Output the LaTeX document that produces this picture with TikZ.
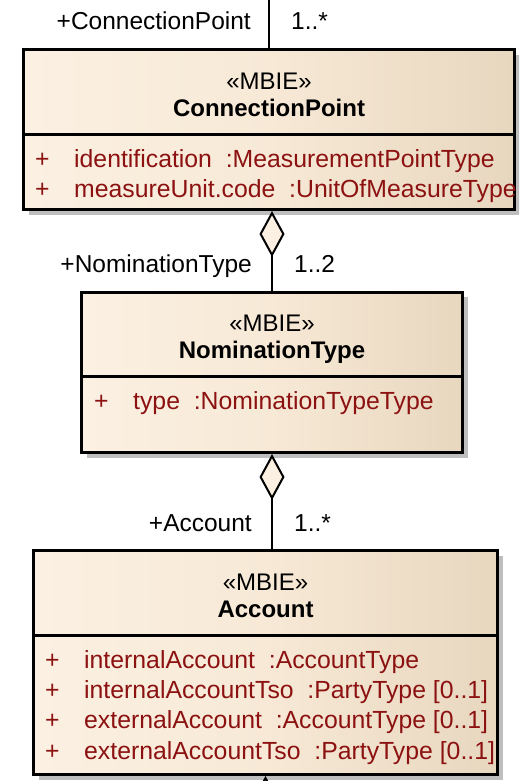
\documentclass[tikz,border=0pt]{standalone}
\usepackage{fontspec}
\setmainfont{Liberation Sans}
\usetikzlibrary{positioning,arrows.meta,shadows}
\definecolor{clsLight}{RGB}{251,240,226}
\definecolor{clsMid}{RGB}{247,233,214}
\definecolor{clsDark}{RGB}{232,215,191}
\definecolor{attrRed}{RGB}{140,18,18}
\definecolor{shadowGray}{RGB}{190,190,190}
\tikzset{
clsbox/.style={
  draw,
  line width=3pt,
  anchor=north west,
  inner sep=0pt,
  left color=clsLight,
  right color=clsDark,
  middle color=clsMid,
  drop shadow={shadow xshift=5pt,shadow yshift=-5pt,fill=shadowGray,opacity=1}
  },
stereo/.style={anchor=base,inner sep=0pt,font=\fontsize{24}{29}\selectfont},
clsname/.style={stereo,font=\bfseries\fontsize{24}{29}\selectfont},
attr/.style={anchor=base west,inner sep=0pt,text=attrRed,font=\fontsize{24.8}{30}\selectfont},
role/.style={inner sep=0pt,font=\fontsize{24.5}{30}\selectfont},
sepline/.style={line width=3pt},
conn/.style={line width=2.7pt},
assoc/.style={conn,-{Diamond[length=46pt,width=25pt,line width=2pt,fill=clsLight]}}
}
\begin{document}
\begin{tikzpicture}[x=1pt,y=-1pt]
    \clip (0,0) rectangle (519,781);
    % classes
    \node[clsbox,minimum width=491pt,minimum height=159.5pt] (cpBox) at (22,48.5) {};
    \node[clsbox,minimum width=381pt,minimum height=160.5pt] (ntBox) at (80,290.5) {};
    \node[clsbox,minimum width=464pt,minimum height=224pt] (acBox) at (32,549) {};
    \foreach \cls/\nm in {cp/ConnectionPoint,nt/NominationType,ac/Account}
    {
        \node[stereo] (\cls Stereo) at ([yshift=-41pt]\cls Box.north) {«MBIE»};
        \node[clsname] (\cls Name) at ([yshift=-68pt]\cls Box.north) {\nm};
        \draw[sepline] ([yshift=-86pt]\cls Box.north west) -- ([yshift=-86pt]\cls Box.north east);
    }
    % attributes
    \foreach \txt [count=\i] in {identification\ \ :MeasurementPointType,measureUnit.code\ \ :UnitOfMeasureType}
        \node[attr] (cpAttr\i) at ([xshift=13pt,yshift={-89pt-30pt*\i}]cpBox.north west) {\makebox[39pt][l]{+}\txt};
    \node[attr] (ntAttr1) at ([xshift=14pt,yshift=-119pt]ntBox.north west) {\makebox[39pt][l]{+}type\ \ :NominationTypeType};
    \foreach \txt [count=\i] in {internalAccount\ \ :AccountType,internalAccountTso\ \ :PartyType [0..1],externalAccount\ \ :AccountType [0..1],externalAccountTso\ \ :PartyType [0..1]}
        \node[attr] (acAttr\i) at ([xshift=13pt,yshift={-89pt-30.3pt*\i}]acBox.north west) {\makebox[39pt][l]{+}\txt};
    % associations
    \coordinate (cpUp) at (cpBox.north |- 0,-5);
    \coordinate (acTop) at (acBox.north -| ntBox.south);
    \coordinate (acDown) at (acBox.south |- 0,830);
    \draw[conn] (cpBox.north) -- (cpUp);
    \draw[assoc] (ntBox.north) -- (ntBox.north |- cpBox.south);
    \draw[assoc] (acTop) -- (ntBox.south);
    \draw[assoc] (acDown) -- (acBox.south);
    % role names and multiplicities
    \node[role,anchor=base east] (cpRole) at ([xshift=-18pt,yshift=19pt]cpBox.north) {+ConnectionPoint};
    \node[role,anchor=base west] (cpMult) at ([xshift=22pt,yshift=19pt]cpBox.north) {1..*};
    \node[role,anchor=base east] (ntRole) at ([xshift=-20pt,yshift=18pt]ntBox.north) {+NominationType};
    \node[role,anchor=base west] (ntMult) at ([xshift=22pt,yshift=18pt]ntBox.north) {1..2};
    \node[role,anchor=base east] (acRole) at ([xshift=-20pt,yshift=18pt]acTop) {+Account};
    \node[role,anchor=base west] (acMult) at ([xshift=22pt,yshift=18pt]acTop) {1..*};
\end{tikzpicture}
\end{document}
